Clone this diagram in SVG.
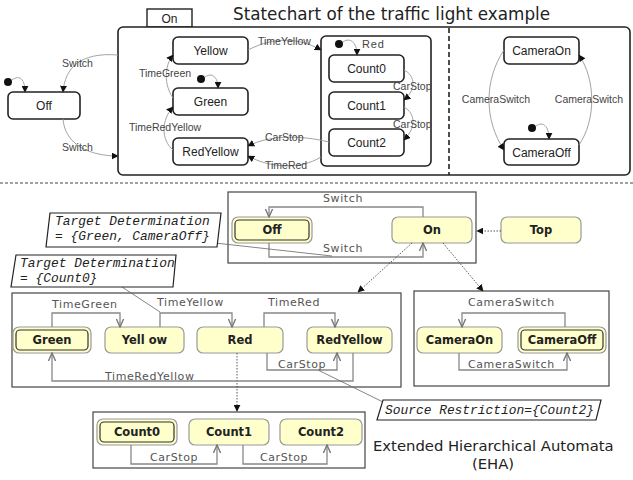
<svg xmlns="http://www.w3.org/2000/svg" width="633" height="480" viewBox="0 0 633 480">
<defs>
<marker id="fa" viewBox="0 0 10 10" refX="9" refY="5" markerWidth="7" markerHeight="7" markerUnits="userSpaceOnUse" orient="auto"><path d="M0,0 L10,5 L0,10 z" fill="#111"/></marker>
<marker id="oa" viewBox="0 0 10 10" refX="9" refY="5" markerWidth="9" markerHeight="9" markerUnits="userSpaceOnUse" orient="auto"><path d="M0,1 L9,5 L0,9" fill="none" stroke="#777" stroke-width="1.5"/></marker>
</defs>
<style>
.st{fill:#fff;stroke:#222;stroke-width:1.6}
.tl{font-family:"Liberation Sans",Arial,sans-serif;font-size:10.5px;fill:#444}
.sn{font-family:"Liberation Sans",Arial,sans-serif;font-size:12px;fill:#222;text-anchor:middle}
.tc{fill:none;stroke:#999;stroke-width:0.9;marker-end:url(#fa)}
.dot{fill:#111}
.nd{fill:#ffffcc;stroke:#999;stroke-width:1.2}
.ndi{fill:none;stroke:#333;stroke-width:1.2}
.nl{font-family:"DejaVu Sans",sans-serif;font-size:11.5px;font-weight:bold;fill:#222;text-anchor:middle}
.el{font-family:"DejaVu Sans",sans-serif;font-size:11px;fill:#555;letter-spacing:0.6px}
.et{fill:none;stroke:#888;stroke-width:1.3;marker-end:url(#oa)}
.box{fill:none;stroke:#444;stroke-width:1.2}
.dl{fill:none;stroke:#444;stroke-width:0.9;stroke-dasharray:1.5,1.5;marker-end:url(#fa)}
.nt{fill:#fff;stroke:#222;stroke-width:1.2}
.mt{font-family:"Liberation Mono","Courier New",monospace;font-size:12.9px;font-style:italic;fill:#222}
.ttl{font-family:"DejaVu Sans",sans-serif;font-size:16.8px;fill:#222}
.an{fill:none;stroke:#666;stroke-width:0.8}
</style>

<text class="ttl" x="233" y="20">Statechart of the traffic light example</text>

<g id="top-on">
<rect x="147" y="9" width="45" height="18" fill="#fff" stroke="#222" stroke-width="1.4"/>
<text class="sn" x="169.5" y="23">On</text>
<rect x="118" y="27" width="512" height="148" rx="5" class="st"/>
<line x1="449" y1="28" x2="449" y2="175" stroke="#222" stroke-width="1.6" stroke-dasharray="5,3"/>
</g>
<g id="top-off"><rect x="8" y="92" width="72" height="27" rx="5" class="st"/><text class="sn" x="44" y="110">Off</text></g>
<g id="top-yellow"><rect x="173" y="37" width="75" height="27" rx="5" class="st"/><text class="sn" x="210.5" y="55">Yellow</text></g>
<g id="top-green"><rect x="173" y="88" width="75" height="27" rx="5" class="st"/><text class="sn" x="210.5" y="106">Green</text></g>
<g id="top-redyellow"><rect x="173" y="138" width="75" height="27" rx="5" class="st"/><text class="sn" x="210.5" y="156">RedYellow</text></g>
<g id="top-red"><rect x="321" y="36" width="110" height="130" rx="5" class="st"/><text class="tl" x="362" y="48" style="font-size:11px;letter-spacing:0.8px">Red</text></g>
<g id="top-count0"><rect x="329" y="55" width="75" height="27" rx="5" class="st"/><text class="sn" x="366.5" y="73">Count0</text></g>
<g id="top-count1"><rect x="329" y="92" width="75" height="27" rx="5" class="st"/><text class="sn" x="366.5" y="110">Count1</text></g>
<g id="top-count2"><rect x="329" y="129" width="75" height="27" rx="5" class="st"/><text class="sn" x="366.5" y="147">Count2</text></g>
<g id="top-cameraon"><rect x="504" y="37" width="75" height="27" rx="5" class="st"/><text class="sn" x="541.5" y="55">CameraOn</text></g>
<g id="top-cameraoff"><rect x="504" y="139" width="75" height="26" rx="5" class="st"/><text class="sn" x="541.5" y="157">CameraOff</text></g>

<g id="top-connectors">
<circle class="dot" cx="8" cy="82" r="4"/>
<path class="tc" d="M12,80 C20,74 25,80 25,92"/>
<circle class="dot" cx="201" cy="79" r="4"/>
<path class="tc" d="M205,77 C212,72 218,77 218,88"/>
<circle class="dot" cx="339" cy="44" r="4"/>
<path class="tc" d="M343,42 C350,37 357,42 357,55"/>
<circle class="dot" cx="532" cy="128" r="4"/>
<path class="tc" d="M536,126 C543,121 549,126 549,139"/>
<path class="tc" d="M118,55 C80,52 65,68 63,92"/>
<text class="tl" x="62" y="67">Switch</text>
<path class="tc" d="M63,119 C65,145 90,156 118,156"/>
<text class="tl" x="62" y="151">Switch</text>
<path class="tc" d="M248,50 C275,36 300,38 321,50"/>
<text class="tl" x="258" y="45">TimeYellow</text>
<path class="tc" d="M173,98 C164,85 164,66 173,55"/>
<text class="tl" x="139" y="77">TimeGreen</text>
<path class="tc" d="M173,150 C161,140 161,120 173,107"/>
<text class="tl" x="129" y="131">TimeRedYellow</text>
<path class="tc" d="M329,142 C300,135 270,135 248,146"/>
<text class="tl" x="265" y="141">CarStop</text>
<path class="tc" d="M321,157 C300,170 270,168 248,156"/>
<text class="tl" x="265" y="169">TimeRed</text>
<path class="tc" d="M404,70 C416,76 416,90 404,100"/>
<text class="tl" x="393" y="90">CarStop</text>
<path class="tc" d="M404,107 C416,114 416,128 404,140"/>
<text class="tl" x="393" y="128">CarStop</text>
<path class="tc" d="M504,50 C484,80 484,120 504,150"/>
<text class="tl" x="496" y="103" text-anchor="middle">CameraSwitch</text>
<path class="tc" d="M579,145 C596,120 596,80 579,55"/>
<text class="tl" x="589" y="103" text-anchor="middle">CameraSwitch</text>
</g>

<line x1="0" y1="183" x2="633" y2="183" stroke="#444" stroke-width="1" stroke-dasharray="3,2"/>

<g id="eha-boxes">
<rect class="box" x="228" y="192" width="248" height="71"/>
<rect class="box" x="12" y="293" width="389" height="94"/>
<rect class="box" x="414" y="291" width="195" height="95"/>
<rect class="box" x="93" y="412" width="272" height="56"/>
</g>

<g id="eha-off"><rect class="nd" x="232" y="217" width="80" height="26" rx="6"/><rect class="ndi" x="235" y="220" width="74" height="20" rx="4"/><text class="nl" x="272" y="234">Off</text></g>
<g id="eha-on"><rect class="nd" x="392" y="217" width="80" height="26" rx="6"/><text class="nl" x="432" y="234">On</text></g>
<g id="eha-top"><rect class="nd" x="501" y="217" width="80" height="26" rx="6"/><text class="nl" x="541" y="234">Top</text></g>
<g id="eha-green"><rect class="nd" x="13" y="327" width="78" height="26" rx="6"/><rect class="ndi" x="16" y="330" width="72" height="20" rx="4"/><text class="nl" x="52" y="344">Green</text></g>
<g id="eha-yellow"><rect class="nd" x="105" y="327" width="79" height="26" rx="6"/><text class="nl" x="144.5" y="344">Yell ow</text></g>
<g id="eha-red"><rect class="nd" x="197" y="327" width="86" height="26" rx="6"/><text class="nl" x="240" y="344">Red</text></g>
<g id="eha-redyellow"><rect class="nd" x="307" y="327" width="85" height="26" rx="6"/><text class="nl" x="349.5" y="344">RedYellow</text></g>
<g id="eha-cameraon"><rect class="nd" x="417" y="327" width="85" height="26" rx="6"/><text class="nl" x="459.5" y="344">CameraOn</text></g>
<g id="eha-cameraoff"><rect class="nd" x="518" y="327" width="88" height="26" rx="6"/><rect class="ndi" x="521" y="330" width="82" height="20" rx="4"/><text class="nl" x="562" y="344">CameraOff</text></g>
<g id="eha-count0"><rect class="nd" x="97" y="419" width="80" height="26" rx="6"/><rect class="ndi" x="100" y="422" width="74" height="20" rx="4"/><text class="nl" x="137" y="436">Count0</text></g>
<g id="eha-count1"><rect class="nd" x="189" y="419" width="80" height="26" rx="6"/><text class="nl" x="229" y="436">Count1</text></g>
<g id="eha-count2"><rect class="nd" x="280" y="419" width="82" height="26" rx="6"/><text class="nl" x="321" y="436">Count2</text></g>

<g id="eha-connectors">
<path class="et" d="M423,217 V207 H269 V217"/>
<text class="el" x="323" y="202">Switch</text>
<path class="et" d="M269,243 V257 H423 V243"/>
<text class="el" x="323" y="252">Switch</text>
<path class="dl" d="M501,231 H477"/>
<path class="dl" d="M412,243 L358,292"/>
<path class="dl" d="M443,243 L483,291"/>
<path class="dl" d="M237,353 V411"/>
<path class="et" d="M52,327 V313 H120 V327"/>
<text class="el" x="52" y="308">TimeGreen</text>
<path class="et" d="M160,327 V313 H232 V327"/>
<text class="el" x="157" y="306">TimeYellow</text>
<path class="et" d="M264,327 V313 H335 V327"/>
<text class="el" x="268" y="306">TimeRed</text>
<path class="et" d="M353,353 V381 H52 V353"/>
<text class="el" x="105" y="380">TimeRedYellow</text>
<path class="et" d="M267,353 V370 H337 V353"/>
<text class="el" x="278" y="368">CarStop</text>
<path class="et" d="M565,327 V313 H462 V327"/>
<text class="el" x="468" y="306">CameraSwitch</text>
<path class="et" d="M459,353 V370 H567 V353"/>
<text class="el" x="468" y="368">CameraSwitch</text>
<path class="et" d="M131,445 V464 H217 V445"/>
<text class="el" x="150" y="461">CarStop</text>
<path class="et" d="M243,445 V464 H327 V445"/>
<text class="el" x="260" y="461">CarStop</text>
</g>

<g id="note-target1">
<line class="an" x1="215" y1="243" x2="332" y2="256"/>
<polygon class="nt" points="50,213 221,213 217,247 46,247"/>
<text class="mt" x="55" y="225">Target Determination</text>
<text class="mt" x="55" y="240">= {Green, CameraOff}</text>
</g>
<g id="note-target2">
<line class="an" x1="122" y1="287" x2="160" y2="312"/>
<polygon class="nt" points="16,255 176,255 173,287 11,287"/>
<text class="mt" x="20" y="267">Target Determination</text>
<text class="mt" x="20" y="282">= {Count0}</text>
</g>
<g id="note-source">
<line class="an" x1="318" y1="370" x2="383" y2="402"/>
<polygon class="nt" points="383,400 601,400 596,420 377,420"/>
<text class="mt" x="385" y="414">Source Restriction={Count2}</text>
</g>

<text class="ttl" x="373" y="451" style="font-size:14.8px">Extended Hierarchical Automata</text>
<text class="ttl" x="493" y="469" style="font-size:14.8px" text-anchor="middle">(EHA)</text>
</svg>
